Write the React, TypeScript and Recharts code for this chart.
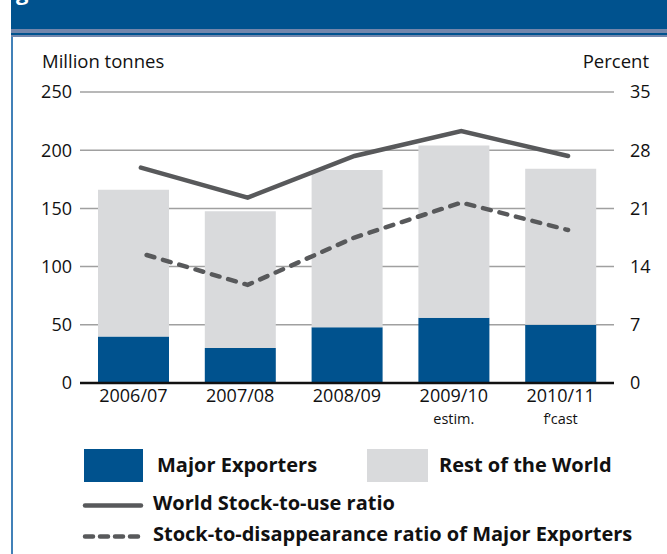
import React from 'react';
import { ComposedChart, Bar, Line, XAxis, YAxis, CartesianGrid } from 'recharts';

// values
const seasons = ['2006/07', '2007/08', '2008/09', '2009/10', '2010/11'];
const seasonNotes = ['', '', '', 'estim.', 'f\u2019cast'];
const majorExporters = [40, 30, 48, 56, 50];
const restOfWorld = [126, 117.5, 135, 148, 134];
const worldRatio = [25.9, 22.3, 27.3, 30.3, 27.3];
const exportersRatio = [15.6, 11.8, 17.5, 21.7, 18.4];
const leftTicks = [0, 50, 100, 150, 200, 250];
const rightTicks = [0, 7, 14, 21, 28, 35];

const BLUE = '#00528e';
const GREY = '#d9dadc';
const LINE = '#58595b';
const TEXT = '#111';
const FONT = '"Open Sans", sans-serif';

const data = seasons.map((s, i) => ({
  season: s,
  pos: i,
  major: majorExporters[i],
  rest: restOfWorld[i],
  world: worldRatio[i],
  exporters: exportersRatio[i],
}));

function SeasonTick(props: any) {
  const { x, y, payload } = props;
  const note = seasonNotes[seasons.indexOf(payload.value)];
  return (
    <g>
      <text x={x} y={y + 19} textAnchor="middle" fontSize={18} fill={TEXT} fontFamily={FONT}>
        {payload.value}
      </text>
      {note ? (
        <text x={x} y={y + 41} textAnchor="middle" fontSize={14.5} fill={TEXT} fontFamily={FONT}>
          {note}
        </text>
      ) : null}
    </g>
  );
}

export default function App() {
  const tickStyle = { fontSize: 18, fill: TEXT, fontFamily: FONT };
  return (
    <div style={{ position: 'absolute', left: 0, top: 0, width: 667, height: 554, background: '#fff', overflow: 'hidden', fontFamily: FONT }}>
      {/* header band */}
      <div style={{ position: 'absolute', left: 11, top: 0, width: 656, height: 29, background: BLUE }} />
      <div style={{ position: 'absolute', left: 11, top: 29, width: 656, height: 8, background: '#7386ab' }} />
      <div style={{ position: 'absolute', left: 11, top: 33, width: 656, height: 1.5, background: BLUE }} />
      <div style={{ position: 'absolute', left: 11, top: 37, width: 2, height: 517, background: '#4181b8' }} />

      <ComposedChart
        width={667}
        height={554}
        data={data}
        margin={{ top: 92, right: 3, bottom: 131, left: 20 }}
        style={{ position: 'absolute', left: 0, top: 0 }}
      >
        <CartesianGrid
          xAxisId="cat"
          yAxisId="left"
          vertical={false}
          stroke="#a0a0a0"
          strokeWidth={1.5}
        />
        <XAxis
          xAxisId="cat"
          dataKey="season"
          height={40}
          axisLine={{ stroke: TEXT, strokeWidth: 2.5 }}
          tickLine={false}
          tickSize={0}
          tickMargin={0}
          interval={0}
          tick={<SeasonTick />}
        />
        <XAxis xAxisId="pos" type="number" dataKey="pos" domain={[-0.57, 4.43]} allowDataOverflow hide />
        <YAxis
          yAxisId="left"
          width={60}
          domain={[0, 250]}
          ticks={leftTicks}
          interval={0}
          axisLine={false}
          tickLine={false}
          tickSize={0}
          tickMargin={8}
          tick={tickStyle}
        />
        <YAxis
          yAxisId="right"
          orientation="right"
          width={50}
          domain={[0, 35]}
          ticks={rightTicks}
          interval={0}
          axisLine={false}
          tickLine={false}
          tickSize={0}
          tickMargin={16}
          tick={{ ...tickStyle, textAnchor: 'start' }}
        />
        <Bar xAxisId="cat" yAxisId="left" dataKey="major" stackId="s" fill={BLUE} barSize={71} isAnimationActive={false} />
        <Bar xAxisId="cat" yAxisId="left" dataKey="rest" stackId="s" fill={GREY} barSize={71} isAnimationActive={false} />
        <Line
          xAxisId="pos"
          yAxisId="right"
          dataKey="world"
          type="linear"
          stroke={LINE}
          strokeWidth={4.5}
          strokeLinecap="round"
          dot={false}
          activeDot={false}
          isAnimationActive={false}
        />
        <Line
          xAxisId="pos"
          yAxisId="right"
          dataKey="exporters"
          type="linear"
          stroke={LINE}
          strokeWidth={4.5}
          strokeDasharray="8 9"
          strokeDashoffset={-6}
          strokeLinecap="round"
          dot={false}
          activeDot={false}
          isAnimationActive={false}
        />
      </ComposedChart>

      {/* titles, header text and legend */}
      <svg width={667} height={554} style={{ position: 'absolute', left: 0, top: 0, pointerEvents: 'none' }}>
        <text x={16} y={0} fontSize={22} fontWeight="bold" fill="#fff" fontFamily={FONT}>g</text>
        <text x={42} y={68} fontSize={18.5} fill={TEXT} fontFamily={FONT}>Million tonnes</text>
        <text x={649} y={68} fontSize={18.5} fill={TEXT} fontFamily={FONT} textAnchor="end">Percent</text>

        <rect x={84} y={449} width={59} height={33} fill={BLUE} />
        <text x={157} y={472} fontSize={20} fontWeight="bold" fill={TEXT} fontFamily={FONT}>Major Exporters</text>
        <rect x={367} y={449} width={61} height={33} fill={GREY} />
        <text x={439} y={472} fontSize={20} fontWeight="bold" fill={TEXT} fontFamily={FONT}>Rest of the World</text>

        <line x1={85} y1={505.5} x2={141} y2={505.5} stroke={LINE} strokeWidth={4.5} strokeLinecap="round" />
        <text x={153} y={510} fontSize={20} fontWeight="bold" fill={TEXT} fontFamily={FONT}>World Stock-to-use ratio</text>
        <line x1={85} y1={536.5} x2={141} y2={536.5} stroke={LINE} strokeWidth={4.5} strokeDasharray="8 7" strokeLinecap="round" />
        <text x={153} y={541} fontSize={20} fontWeight="bold" fill={TEXT} fontFamily={FONT}>Stock-to-disappearance ratio of Major Exporters</text>
      </svg>
    </div>
  );
}
